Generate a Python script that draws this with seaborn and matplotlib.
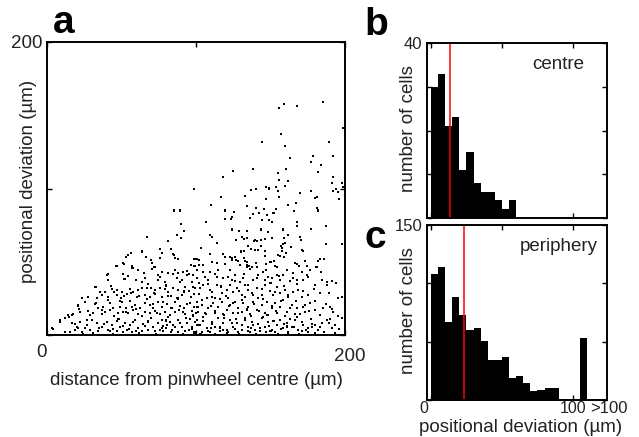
import matplotlib
matplotlib.use("Agg")
import matplotlib.pyplot as plt
import matplotlib.transforms as mtransforms
import seaborn as sns

# panel a: each cell's distance from the pinwheel centre and its positional deviation (um)
distance = [
    159, 156, 168, 185, 199, 157, 144, 189, 160, 163, 178.5, 192, 177, 184, 160.5, 138, 125, 118,
    155, 182, 192, 156, 162, 191, 198, 147, 149, 154, 159.5, 98.5, 137, 140, 194, 199,
    155, 192, 195, 177, 169.6, 117, 133, 147, 156, 180, 181, 196, 110, 85, 89, 119.5, 134, 140,
    145.6, 154, 162, 166, 167, 181, 182, 125.7, 124.4, 123.5, 119.5, 136, 138, 142, 147.4, 152,
    149, 144, 151, 107, 90, 91.7, 167.6, 168, 177, 187, 158.6, 143.6, 148.5, 124, 129, 134,
    67, 81, 87, 90, 109.4, 110.5, 114, 127, 131, 132.4, 134, 138.7, 139.6, 141, 143.6, 146, 151,
    159, 159.7, 158.6, 161.5, 170, 170.5, 187, 198, 103.6, 135, 137, 139.6, 141.8, 143.6, 132.4,
    130, 157, 158, 163.5, 171, 146.5, 157.7, 63.8, 75.8, 77, 83, 84.3, 56.6, 54.6, 53, 51.2,
    51.5, 46.5, 57, 58, 66.4, 69.6, 70.2, 72, 75.6, 85.7, 85, 87.7, 99, 100.4, 102, 96.4, 99,
    102, 104.5, 109.4, 110.5, 114.3, 118, 119.5, 122.8, 124, 126.4, 126.8, 119.5, 124.4, 128.4,
    129.5, 132.4, 132.7, 134, 134.2, 135.6, 137.4, 140, 140.7, 146.5, 147.2, 150, 152.6, 153,
    154.6, 155.2, 156.4, 159, 160.2, 166.4, 167.6, 169.3, 171.6, 173.4, 174.3, 180.3, 182,
    183.2, 185.7,
    4.2, 8.7, 15, 16.5, 20.6, 21.3, 32.9, 40.5,
    46.8, 57.3, 61.3, 70.2, 72.3, 74.3, 77, 81, 84.3, 87.7, 91.5, 93.7, 98.2, 95.1, 41.2, 50.8,
    54.6, 65.8, 59.5, 64, 74.7, 79.2, 87, 90.4, 97.1, 100.4, 40.7,
    32.2, 35.6, 38.9, 43.4, 45.2, 46.8, 50.1, 53.9, 56.4, 57.9, 60.8, 63.5, 66.9, 69.8, 72.5,
    75.8, 79.2, 81.4, 84.8, 88.1, 92.6, 95.5, 99.3, 23.7, 27.7, 33.3, 36.7, 41.2, 49.7, 51.9,
    60.6, 65.8, 69.1, 72.5, 77, 81.4, 87, 90.8, 96.6, 98.9,
    21, 25.5, 32.2, 34.5, 37.8, 42.3, 44.5, 49, 50.6, 52.8, 56.8, 59.1, 62.4, 65.8, 69.1, 71.4,
    74.3, 77, 80.3, 83.2, 85.9, 89.3, 92.2, 96, 98.9, 14.3, 17.7, 22.1, 27.7, 31.1, 36.7, 38.9,
    42.3, 47.4, 51.2, 54.6, 57.9, 61.3, 65.8, 69.1, 72.5, 75.8, 79.2, 82.5, 85.9, 88.6, 92.6,
    97.1, 99.8,
    8.7, 12.1, 16.6, 19.9, 22.1, 26.6, 30, 33.3, 36.7, 40, 43.4, 46.8, 49, 52.4, 55.7, 59.1,
    61.3, 64.7, 68, 71.4, 74.7, 77, 79.6, 82.5, 84.8, 87.7, 90.4, 93.7, 97.1, 99.3, 3.6, 18.8,
    23.3, 28.9, 34.5, 41.2, 46.8, 53.5, 56.8, 63.5, 72.5, 78.1, 83.7, 88.1, 92.6, 97.1, 99.8,
    77, 80.3, 67.6, 51.2, 44.5, 25.5, 15.4, 21,
    100.4, 106, 108.3, 109.4, 112.7, 115, 118.3, 121.7, 123.9, 126.1, 129.5, 131.7, 134, 136.2,
    138.4, 141.8, 145.2, 146.3, 148.5, 150.8, 154.1, 156.3, 158.6, 160.8, 163.1, 165.3, 167.5,
    170.9, 172, 174.2, 176.5, 181, 184.3, 187.7, 191, 102,
    102.7, 104.9, 109.4, 110.5, 113.8, 117.2, 120.6, 122.8, 125, 127.3, 130.6, 132.9, 135.1,
    137.3, 140.7, 144, 146.3, 149.6, 151.9, 154.1, 156.3, 159.7, 161.9, 165.3, 168.6, 170.9,
    175.4, 179.8, 183.2, 187.7, 195.5, 197.7, 112.7, 121.7, 132.9, 141.8,
    100.4, 103.8, 107.1, 108.3, 111.6, 115, 117.2, 120.6, 122.8, 126.1, 128.4, 131.7, 135.1,
    138.4, 140.7, 144, 147.4, 150.8, 153, 156.3, 158.6, 160.8, 164.2, 167.5, 172, 176.5, 179.8,
    185.4, 189.9, 192.1, 101.5, 106, 112.7, 118.3, 125, 130.6, 136.2, 146.3, 154.1, 166.4, 173.1,
    100.4, 102.7, 104.9, 107.1, 110.5, 112.7, 115, 118.3, 120.6, 122.8, 125, 127.3, 130.6, 132.9,
    135.1, 137.3, 139.6, 141.8, 144, 146.3, 148.5, 150.8, 154.1, 156.3, 158.6, 160.8, 164.2,
    166.4, 168.6, 172, 175.4, 177.6, 179.8, 184.3, 187.7, 191, 193.3, 197.7, 103.8, 109.4, 116.1,
    121.7, 128.4, 136.2, 142.9, 153, 161.9, 170.9, 175.4, 182.1,
]
deviation = [
    157.5, 155, 156, 159, 141.5, 137, 132, 132, 129, 121, 122, 122, 118, 116, 113.5, 113, 112, 108,
    110.5, 111, 108, 106, 105, 104, 104, 101, 100, 101, 101.5, 99.5, 99, 99.5, 99.7, 101,
    98, 98.5, 97.4, 98.5, 96.7, 94, 95, 93, 94, 93.5, 94, 92.6, 88.5, 85, 85, 85, 88, 86.7,
    86, 86, 88.7, 84.4, 90, 86.7, 85, 84, 80.6, 79, 79, 80, 82.6, 83, 82, 83,
    78.7, 78.7, 77, 77, 76, 71, 77, 74.4, 72.6, 74.4, 72, 72, 70, 72, 71, 71,
    66.7, 64.4, 68.3, 66, 68.3, 67, 63, 65, 66.7, 65.8, 66, 64, 64.6, 64.4, 65, 65.3, 66,
    66, 63, 62, 68, 66.7, 64.6, 62, 62, 59.6, 61, 58.7, 58, 58, 61, 57.6,
    57, 60.8, 59.2, 60, 58, 57.6, 57.6, 57, 58.5, 55.8, 58.5, 55.5, 55.8, 54.8, 53.5, 49.4,
    48.3, 47, 47, 45.8, 53.5, 51.2, 49, 46.7, 52.6, 52.4, 54.6, 52, 52, 52, 51, 47.8, 47,
    47.8, 47.8, 55.3, 49.6, 49.2, 55.3, 53.5, 53.5, 52.6, 53, 51.2, 48.3, 51.2, 50.8,
    47.8, 52.8, 50.5, 49.6, 47.8, 47, 46.2, 49.4, 46.7, 54.2, 48.5, 49.6, 50.3, 47.3,
    46.7, 54.6, 54, 53.5, 55.8, 49.4, 48.5, 47, 57.4, 50.5, 47, 46.7, 50.3,
    51.7, 51.7,
    3.9, 9.1, 12.5, 13.8, 20, 18, 32.6, 41,
    47.1, 46, 44.4, 45.1, 46.7, 41, 43.3, 42.3, 41.4, 42.1, 42.8, 43.7, 41, 41.4, 41.7, 41.7,
    40.3, 39.2, 37.6, 36.4, 37.6, 36.4, 38.7, 37.6, 36.4, 38.7, 37.6,
    33, 29.6, 29.6, 31.4, 29.1, 30.7, 29.6, 27.8, 28.5, 29.6, 30.7, 31.9, 32.3, 31.9, 30.7,
    32.3, 31.4, 29.6, 31.9, 30.7, 33, 30.1, 31.9, 25.5, 26.2, 25, 27.3, 26.2, 25, 26.9,
    26.2, 27.3, 26.2, 27.8, 26.2, 26.9, 25.5, 27.3, 26.2, 27.8,
    20.5, 22.8, 21, 18.7, 19.4, 21.6, 18.2, 23.2, 22.3, 18.7, 19.4, 20.5, 18.7, 21.6, 20.5, 18.2,
    22.3, 19.4, 21, 18.2, 22.3, 20, 18.7, 21.6, 19.4, 13.7, 14.1, 15.9, 16.4, 14.8, 14.1, 15.9,
    17.1, 14.8, 15.9, 14.8, 17.1, 14.1, 15.9, 14.8, 16.4, 14.1, 15.9, 13.7, 15.5, 17.1, 14.1,
    16.4, 14.8,
    10.3, 11.4, 8, 5.7, 9.1, 6.8, 10.3, 8, 5.7, 9.1, 6.8, 9.6, 5.7, 8, 6.8, 10.3,
    4.6, 7.3, 9.1, 5.7, 8, 10.3, 5, 8.7, 6.8, 10.3, 5.7, 8, 5.7, 9.1, 4.6, 3.4,
    2.3, 3.4, 2.8, 3.4, 2.8, 3.4, 2.3, 3, 2.8, 3, 3.4, 2.3, 2.8, 4.1, 2.3,
    4.6, 6.8, 3.4, 2.3, 3.9, 5, 2.3, 4.6,
    44.4, 39.8, 37.6, 43.3, 41.4, 44.4, 38.7, 39.8, 37.6, 41, 36.4, 38.7, 46.7, 45.1,
    37.6, 41, 43.3, 37.6, 39.8, 38.7, 41, 37.6, 41, 44.4, 36.9, 38.7, 37.6,
    43.3, 37.6, 41, 44.4, 46.7, 37.6, 36.4, 36.9, 35.3,
    31.9, 34.2, 30.7, 26.2, 34.2, 28.5, 30.7, 34.2, 29.6, 31.9, 27.3, 34.2, 30.7,
    28.5, 31.9, 27.3, 34.2, 30.1, 27.3, 33, 28.5, 30.7, 26.2, 29.6, 30.7, 26.2,
    27.3, 34.2, 28.5, 34.2, 25, 26.2, 25, 25.5, 26.2, 25.5,
    22.8, 20.5, 25, 18.2, 21.6, 19.4, 22.8, 17.1, 20.5, 22.8, 18.2, 21.6, 19.4,
    22.8, 17.1, 20.5, 22.8, 18.2, 21.6, 19.4, 23.9, 15.9, 20.5, 18.2, 19.4, 21.6, 17.1,
    18.2, 19.4, 15.9, 15.9, 14.8, 14.8, 14.1, 14.8, 15.9, 14.1, 14.8, 14.8, 14.1, 15.9,
    10.3, 6.8, 12.5, 4.6, 9.1, 5.7, 11.4, 8, 3.4, 10.3, 5.7, 8, 3.4, 11.4,
    5.7, 9.1, 3.4, 7.3, 11.4, 5.7, 9.1, 3.4, 6.8, 10.3, 4.6, 8, 5.7,
    10.3, 3.4, 6.8, 4.6, 5.7, 6.8, 8, 10.3, 4.6, 6.8, 11.4, 2.3, 2.3, 2.8,
    1.8, 2.3, 2.3, 2.8, 1.8, 2.3, 2.8, 2.3, 3.4,
]

# more cells from the crowded lower band of panel a (positions estimated)
distance_dense = [
    31, 38, 44, 48, 55, 58, 62, 66, 70, 73, 76, 80, 83, 86, 89, 91, 95, 96, 101, 103, 105, 108,
    111, 113, 116, 119, 121, 124, 126, 129, 131, 133, 135, 138, 140, 143, 145, 147, 149, 152,
    155, 157, 159, 162, 163, 166, 169, 171, 174, 177, 180, 183, 186, 189, 193, 196,
    12, 19, 24, 27, 35, 42, 51, 60, 68, 78, 93, 99, 110, 118, 127, 137, 150, 161, 168, 178, 190,
    29, 33, 37, 41, 45, 49, 53, 56, 60, 64, 67, 71, 74, 78, 81, 84, 88, 91, 94, 98, 101, 104,
    107, 110, 113, 116, 119, 122, 125, 128, 131, 134, 137, 139, 142, 145, 148, 151, 154, 157,
    160, 163, 167, 170, 173, 176, 180, 183, 187, 191, 195,
    43, 47, 52, 56, 62, 65, 68, 72, 76, 80, 83, 86, 89, 92, 94, 98, 102, 105, 108, 111, 114,
    117, 120, 123, 126, 129, 132, 135, 138, 141, 144, 147, 150, 153, 156, 159, 162, 165, 168,
    172, 175, 179, 184, 189, 194,
]
deviation_dense = [
    1.2, 7.5, 0.8, 11.2, 4.1, 8.8, 1.5, 6.2, 11.8, 0.6, 3.7, 9.9, 1.9, 5.4, 8.1, 0.9, 3.2, 10.7,
    6.9, 0.5, 9.4, 2.7, 7.8, 0.7, 5.1, 11.6, 1.4, 8.3, 4.4, 0.9, 6.6, 10.1, 2.5, 7.1, 0.6, 4.8,
    12.4, 1.9, 6.3, 9.7, 0.8, 3.9, 7.6, 1.3, 10.9, 5.2, 0.7, 8.8, 3.1, 11.2, 1.6, 5.5, 2.2, 8.4,
    1.1, 4.3,
    2.1, 7.4, 1.0, 10.4, 4.7, 3.0, 6.0, 2.9, 9.5, 6.4, 11.9, 1.7, 4.6, 3.3, 11.0, 4.9, 2.9, 5.8,
    12.3, 7.4, 10.9,
    13.5, 21.8, 16.9, 24.2, 12.8, 19.3, 15.6, 23.4, 17.8, 13.1, 24.6, 20.9, 15.2, 22.6, 12.4,
    18.4, 24.9, 15.9, 21.1, 13.3, 18.9, 23.7, 14.6, 20.1, 16.7, 24.4, 13.9, 19.7, 22.1, 15.3,
    23.8, 17.4, 12.9, 21.4, 16.1, 24.7, 13.6, 19.9, 16.4, 22.9, 13.2, 18.7, 23.1, 14.2, 20.6,
    16.3, 23.5, 13.8, 21.1, 17.6, 13.1,
    33.4, 27.1, 38.2, 31.5, 26.8, 42.6, 35.1, 28.4, 39.7, 33.8, 26.5, 44.1, 36.2, 29.7, 40.8,
    32.6, 27.9, 43.2, 34.7, 29.3, 39.5, 33.1, 26.4, 44.6, 36.9, 30.2, 41.7, 34.4, 27.6, 38.9,
    31.6, 44.2, 35.8, 29.1, 40.3, 33.7, 27.3, 42.1, 34.9, 29.8, 39.9, 31.2, 42.8, 28.7, 35.6,
]

# panels b and c: cell counts in 5 um bins of positional deviation; bin 105-110 holds the >100 cells
bin_edges = list(range(0, 115, 5))
centre_counts = [30, 33, 21, 23, 11, 15, 8, 6, 6, 4, 2, 4]
periphery_counts = [108, 114, 67, 88, 73, 60, 62, 51, 34, 34, 37, 19, 21, 15, 8, 9, 10, 10, 0, 0, 0, 53]
centre_median = 13.5
periphery_median = 23.5

FS = 13.5
TICK_FS = 12
sns.set_style("white")
plt.rcParams["font.family"] = ["Liberation Sans", "DejaVu Sans"]
plt.rcParams["text.color"] = "#222222"
plt.rcParams["axes.labelcolor"] = "#222222"


def style_frame(ax, labelsize):
    for sp in ax.spines.values():
        sp.set_visible(True)
        sp.set_color("black")
        sp.set_linewidth(1.4)
    ax.tick_params(direction="in", length=3.5, width=1, top=True, right=True,
                   bottom=True, left=True, labelsize=labelsize, colors="black",
                   labelcolor="#222222")


def hist_panel(ax, counts, median, ymax, yticks, label):
    n = len(counts)
    centres = [e + 2.5 for e in bin_edges[:n]]
    sns.histplot(x=centres, weights=counts, bins=bin_edges[:n + 1], ax=ax,
                 color="black", edgecolor="none", linewidth=0, alpha=1)
    ax.axvline(median, color="red", lw=1.1)
    ax.set_xlim(-2.8, 124)
    ax.set_ylim(0, ymax)
    ax.set_yticks(yticks)
    ax.set_yticklabels([""] * (len(yticks) - 1) + [str(ymax)])
    ax.set_xticks([0, 50, 100])
    ax.set_xticklabels(["", "", ""])
    ax.set_ylabel("number of cells", fontsize=FS)
    ax.yaxis.set_label_coords(-0.056, 0.51)
    ax.text(0.73, 0.875, label, transform=ax.transAxes, ha="center", va="center", fontsize=FS)
    style_frame(ax, TICK_FS)


fig = plt.figure(figsize=(6.39, 4.37), dpi=100)

# a: scatter
ax_a = fig.add_axes([47 / 639, 102 / 437, 298 / 639, 293 / 437])
sns.scatterplot(x=distance + distance_dense, y=deviation + deviation_dense, ax=ax_a,
                color="black", marker="s", s=2.2, linewidth=0, edgecolor="none")
ax_a.set_xlim(0, 200)
ax_a.set_ylim(0, 200)
ax_a.set_xticks([0, 100, 200])
ax_a.set_xticklabels(["", "", ""])
ax_a.set_yticks([0, 100, 200])
ax_a.set_yticklabels(["", "", "200"])
ax_a.text(-0.02, -0.03, "0", transform=ax_a.transAxes, ha="center", va="top", fontsize=FS)
ax_a.text(1.017, -0.044, "200", transform=ax_a.transAxes, ha="center", va="top", fontsize=FS)
ax_a.set_xlabel("distance from pinwheel centre (\u00b5m)", fontsize=FS)
ax_a.xaxis.set_label_coords(0.5, -0.125)
ax_a.set_ylabel("positional deviation (\u00b5m)", fontsize=FS)
ax_a.yaxis.set_label_coords(-0.034, 0.524)
style_frame(ax_a, FS)

# b: centre histogram
ax_b = fig.add_axes([427 / 639, 219 / 437, 180 / 639, 175 / 437])
hist_panel(ax_b, centre_counts, centre_median, 40, [0, 10, 20, 30, 40], "centre")

# c: periphery histogram
ax_c = fig.add_axes([427 / 639, 37 / 437, 180 / 639, 175 / 437])
hist_panel(ax_c, periphery_counts, periphery_median, 150, [0, 50, 100, 150], "periphery")
ax_c.set_xticklabels(["", "", "100"])
ax_c.tick_params(axis="x", pad=0.5, labelsize=11.5)
trans = mtransforms.blended_transform_factory(ax_c.transData, ax_c.transAxes)
ax_c.text(-5, -0.005, "0", transform=trans, ha="center", va="top", fontsize=11.5)
ax_c.text(112, -0.005, ">100", transform=trans, ha="left", va="top", fontsize=12)
ax_c.set_xlabel("positional deviation (\u00b5m)", fontsize=FS)
ax_c.xaxis.set_label_coords(0.522, -0.108)

# panel letters
fig.text(53 / 639, 404 / 437, "a", fontsize=28, fontweight="heavy", color="black")
fig.text(364 / 639, 402 / 437, "b", fontsize=28, fontweight="heavy", color="black")
fig.text(364 / 639, 189 / 437, "c", fontsize=28, fontweight="heavy", color="black")

fig.savefig("out.png", dpi=100)
